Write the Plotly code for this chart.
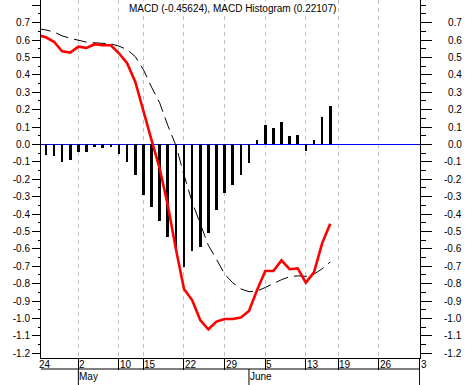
import plotly.graph_objects as go

# ---- data (trading-day index on x) ----
day_idx = list(range(0, 37))
macd = [0.630, 0.616, 0.590, 0.535, 0.528, 0.562, 0.555, 0.576, 0.570, 0.570,
        0.524, 0.467, 0.361, 0.189, 0.026, -0.137, -0.348, -0.600, -0.830, -0.894,
        -1.009, -1.062, -1.018, -1.003, -1.003, -0.995, -0.957, -0.836, -0.727, -0.727,
        -0.666, -0.717, -0.712, -0.794, -0.735, -0.568, -0.456]
signal = [0.665, 0.658, 0.646, 0.624, 0.610, 0.597, 0.588, 0.584, 0.582, 0.578,
          0.565, 0.545, 0.505, 0.430, 0.330, 0.240, 0.110, -0.005, -0.175, -0.330,
          -0.455, -0.580, -0.660, -0.745, -0.795, -0.830, -0.846, -0.842, -0.822, -0.800,
          -0.777, -0.760, -0.755, -0.758, -0.745, -0.715, -0.675]
hist_idx = list(range(1, 37))
hist = [-0.060, -0.064, -0.099, -0.087, -0.041, -0.041, -0.013, -0.022, -0.013, -0.053,
        -0.099, -0.173, -0.292, -0.357, -0.441, -0.530, -0.606, -0.702, -0.610, -0.587,
        -0.510, -0.376, -0.280, -0.231, -0.177, -0.108, 0.026, 0.114, 0.095, 0.128,
        0.051, 0.056, -0.036, 0.026, 0.160, 0.221]

x_tick_pos = [0, 5, 10, 13, 18, 23, 28, 33, 37, 42, 47]
x_tick_text = ["24", "2", "10", "15", "22", "29", "5", "13", "19", "26", "3"]
month_pos = [5, 26, 47]
month_text = ["May", "June", ""]

y_tick_vals = [-1.2, -1.1, -1.0, -0.9, -0.8, -0.7, -0.6, -0.5, -0.4, -0.3, -0.2, -0.1,
               0.0, 0.1, 0.2, 0.3, 0.4, 0.5, 0.6, 0.7, 0.8]
y_tick_text = ["-1.2", "-1.1", "-1.0", "-0.9", "-0.8", "-0.7", "-0.6", "-0.5", "-0.4", "-0.3",
               "-0.2", "-0.1", "0.0", "0.1", "0.2", "0.3", "0.4", "0.5", "0.6", "0.7", ""]

title_text = "MACD (-0.45624), MACD Histogram (0.22107)"

# ---- geometry ----
W, H = 465, 385
ML, MR, MT, MB = 41, 45, 0, 27
PH = H - MT - MB
PW = W - ML - MR
y_range = [-1.227, 0.830]
x_range = [0.4, 47.05]
FONT = "Liberation Sans, Arial, sans-serif"


def x_to_paper(v):
    return (v - x_range[0]) / (x_range[1] - x_range[0])


fig = go.Figure()
fig.add_trace(go.Bar(x=hist_idx, y=hist, width=0.33, marker=dict(color="black", line=dict(width=0)),
                     yaxis="y", showlegend=False))
fig.add_trace(go.Scatter(x=day_idx, y=signal, mode="lines",
                         line=dict(color="black", width=1, dash="13px,6px"),
                         yaxis="y", showlegend=False))
fig.add_trace(go.Scatter(x=day_idx, y=macd, mode="lines",
                         line=dict(color="#ff0000", width=2.6),
                         yaxis="y2", showlegend=False))

row_y = -11 / PH
month_bottom = -27 / PH

shapes = [dict(type="line", xref="paper", yref="paper", x0=0, x1=1, y0=row_y, y1=row_y,
               line=dict(color="black", width=1))]
for p in month_pos:
    shapes.append(dict(type="line", xref="x", yref="paper", x0=p, x1=p, y0=row_y, y1=month_bottom,
                       line=dict(color="black", width=1)))

annotations = [dict(text=title_text, x=0.5, xref="paper", y=1, yref="paper", yanchor="top",
                    xanchor="center", xshift=2, yshift=-1, showarrow=False, bgcolor="white",
                    font=dict(family=FONT, size=10, color="black"))]
for p, t in zip(x_tick_pos, x_tick_text):
    annotations.append(dict(text=t, x=x_to_paper(p), xref="paper", y=0, yref="paper", xanchor="left",
                            yanchor="middle", yshift=-6, xshift=-1, showarrow=False,
                            font=dict(family=FONT, size=10, color="black")))
for p, t in zip(month_pos, month_text):
    if t:
        annotations.append(dict(text=t, x=x_to_paper(p), xref="paper", y=row_y, yref="paper",
                                xanchor="left", yanchor="top", xshift=-1, showarrow=False,
                                font=dict(family=FONT, size=10, color="black")))
for v, t in zip(y_tick_vals, y_tick_text):
    if t:
        annotations.append(dict(text=t, x=(464 - ML) / PW, xref="paper", y=v, yref="y",
                                xanchor="right", yanchor="middle", showarrow=False,
                                font=dict(family=FONT, size=10, color="black")))

fig.update_layout(
    width=W, height=H,
    margin=dict(l=ML, r=MR, t=MT, b=MB, pad=0, autoexpand=False),
    paper_bgcolor="white", plot_bgcolor="white",
    font=dict(family=FONT, size=10, color="black"),
    showlegend=False, bargap=0,
    xaxis=dict(range=x_range, tickmode="array", tickvals=x_tick_pos, ticktext=x_tick_text,
               showticklabels=False, ticks="outside", ticklen=11, tickcolor="black", tickwidth=1,
               showgrid=True, gridcolor="#c0c0c0", gridwidth=1, griddash="4px,4px",
               showline=True, linecolor="black", linewidth=1, zeroline=False, fixedrange=True,
               automargin=False),
    yaxis=dict(range=y_range, tickmode="array", tickvals=y_tick_vals, ticktext=y_tick_text,
               ticks="outside", ticklen=8, tickcolor="black", tickwidth=1,
               tickfont=dict(family=FONT, size=10, color="black"),
               minor=dict(tickmode="linear", tick0=0, dtick=0.05, ticks="outside", ticklen=2,
                          tickcolor="black", showgrid=False),
               showgrid=False, showline=True, linecolor="black", linewidth=1,
               zeroline=True, zerolinecolor="#0000ff", zerolinewidth=1.2, automargin=False),
    yaxis2=dict(range=y_range, overlaying="y", side="right", anchor="x",
                tickmode="array", tickvals=y_tick_vals, ticktext=y_tick_text,
                showticklabels=False, ticks="outside", ticklen=11, tickcolor="black", tickwidth=1,
                minor=dict(tickmode="linear", tick0=0, dtick=0.05, ticks="outside", ticklen=5,
                           tickcolor="black", showgrid=False),
                showgrid=False, showline=True, linecolor="black", linewidth=1, zeroline=False,
                automargin=False),
    shapes=shapes,
    annotations=annotations,
)

fig.write_html("out.html", config={"displayModeBar": False},
               post_script="document.body.style.margin='0px';document.body.style.padding='0px';")
